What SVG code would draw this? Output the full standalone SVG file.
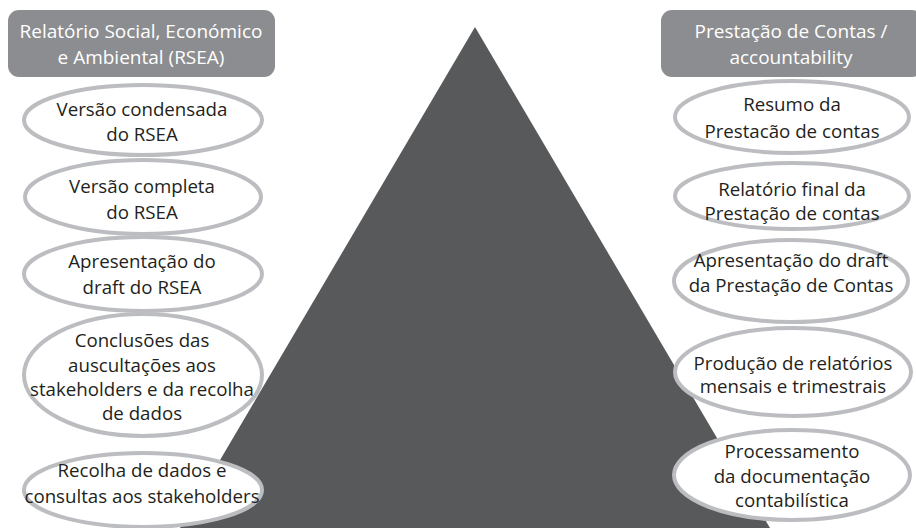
<svg xmlns="http://www.w3.org/2000/svg" width="916" height="528" viewBox="0 0 916 528">
<style>
.hdr{fill:#8c8d90}
.ht{font-family:"Open Sans","Noto Sans",sans-serif;font-size:19px;fill:#ffffff;text-anchor:middle}
.el{fill:#ffffff;stroke:#bcbdc0;stroke-width:4}
.t{font-family:"Open Sans","Noto Sans",sans-serif;font-size:18.7px;fill:#231f20;text-anchor:middle}
</style>
<rect width="916" height="528" fill="#ffffff"/>
<polygon id="pyramid" points="475,27 180,528 770,528" fill="#58595b"/>
<g id="hdr-left">
<rect class="hdr" x="8" y="10" width="267" height="67" rx="11"/>
<text class="ht" x="141" y="38">Relatório Social, Económico</text>
<text class="ht" x="141" y="64">e Ambiental (RSEA)</text>
</g>
<g id="hdr-right">
<rect class="hdr" x="661" y="10" width="262" height="67" rx="11"/>
<text class="ht" x="791" y="38">Prestação de Contas /</text>
<text class="ht" x="791" y="64">accountability</text>
</g>
<g id="l1">
<ellipse class="el" cx="143" cy="120" rx="119" ry="35"/>
<text class="t" x="142" y="116">Versão condensada</text>
<text class="t" x="142" y="141">do RSEA</text>
</g>
<g id="l2">
<ellipse class="el" cx="143" cy="197" rx="118" ry="37"/>
<text class="t" x="142" y="193">Versão completa</text>
<text class="t" x="142" y="219">do RSEA</text>
</g>
<g id="l3">
<ellipse class="el" cx="143" cy="274" rx="119" ry="37"/>
<text class="t" x="142" y="268">Apresentação do</text>
<text class="t" x="142" y="294">draft do RSEA</text>
</g>
<g id="l4">
<ellipse class="el" cx="143" cy="375" rx="119" ry="61"/>
<text class="t" x="142" y="347">Conclusões das</text>
<text class="t" x="142" y="372">auscultações aos</text>
<text class="t" x="142" y="396">stakeholders e da recolha</text>
<text class="t" x="142" y="420">de dados</text>
</g>
<g id="l5">
<ellipse class="el" cx="143" cy="490" rx="119" ry="37"/>
<text class="t" x="142" y="477">Recolha de dados e</text>
<text class="t" x="142" y="503">consultas aos stakeholders</text>
</g>
<g id="r1">
<ellipse class="el" cx="792" cy="117" rx="117" ry="36"/>
<text class="t" x="792" y="111">Resumo da</text>
<text class="t" x="792" y="138">Prestacão de contas</text>
</g>
<g id="r2">
<ellipse class="el" cx="792" cy="196" rx="117" ry="33"/>
<text class="t" x="792" y="196">Relatório final da</text>
<text class="t" x="792" y="220">Prestação de contas</text>
</g>
<g id="r3">
<ellipse class="el" cx="791" cy="281" rx="117" ry="41"/>
<text class="t" x="791" y="267">Apresentação do draft</text>
<text class="t" x="791" y="292">da Prestação de Contas</text>
</g>
<g id="r4">
<ellipse class="el" cx="793" cy="372" rx="118" ry="44"/>
<text class="t" x="793" y="370">Produção de relatórios</text>
<text class="t" x="793" y="393">mensais e trimestrais</text>
</g>
<g id="r5">
<ellipse class="el" cx="792" cy="475" rx="118" ry="45"/>
<text class="t" x="792" y="458">Processamento</text>
<text class="t" x="792" y="483">da documentação</text>
<text class="t" x="792" y="507">contabilística</text>
</g>
<g id="connectors"/>
</svg>
